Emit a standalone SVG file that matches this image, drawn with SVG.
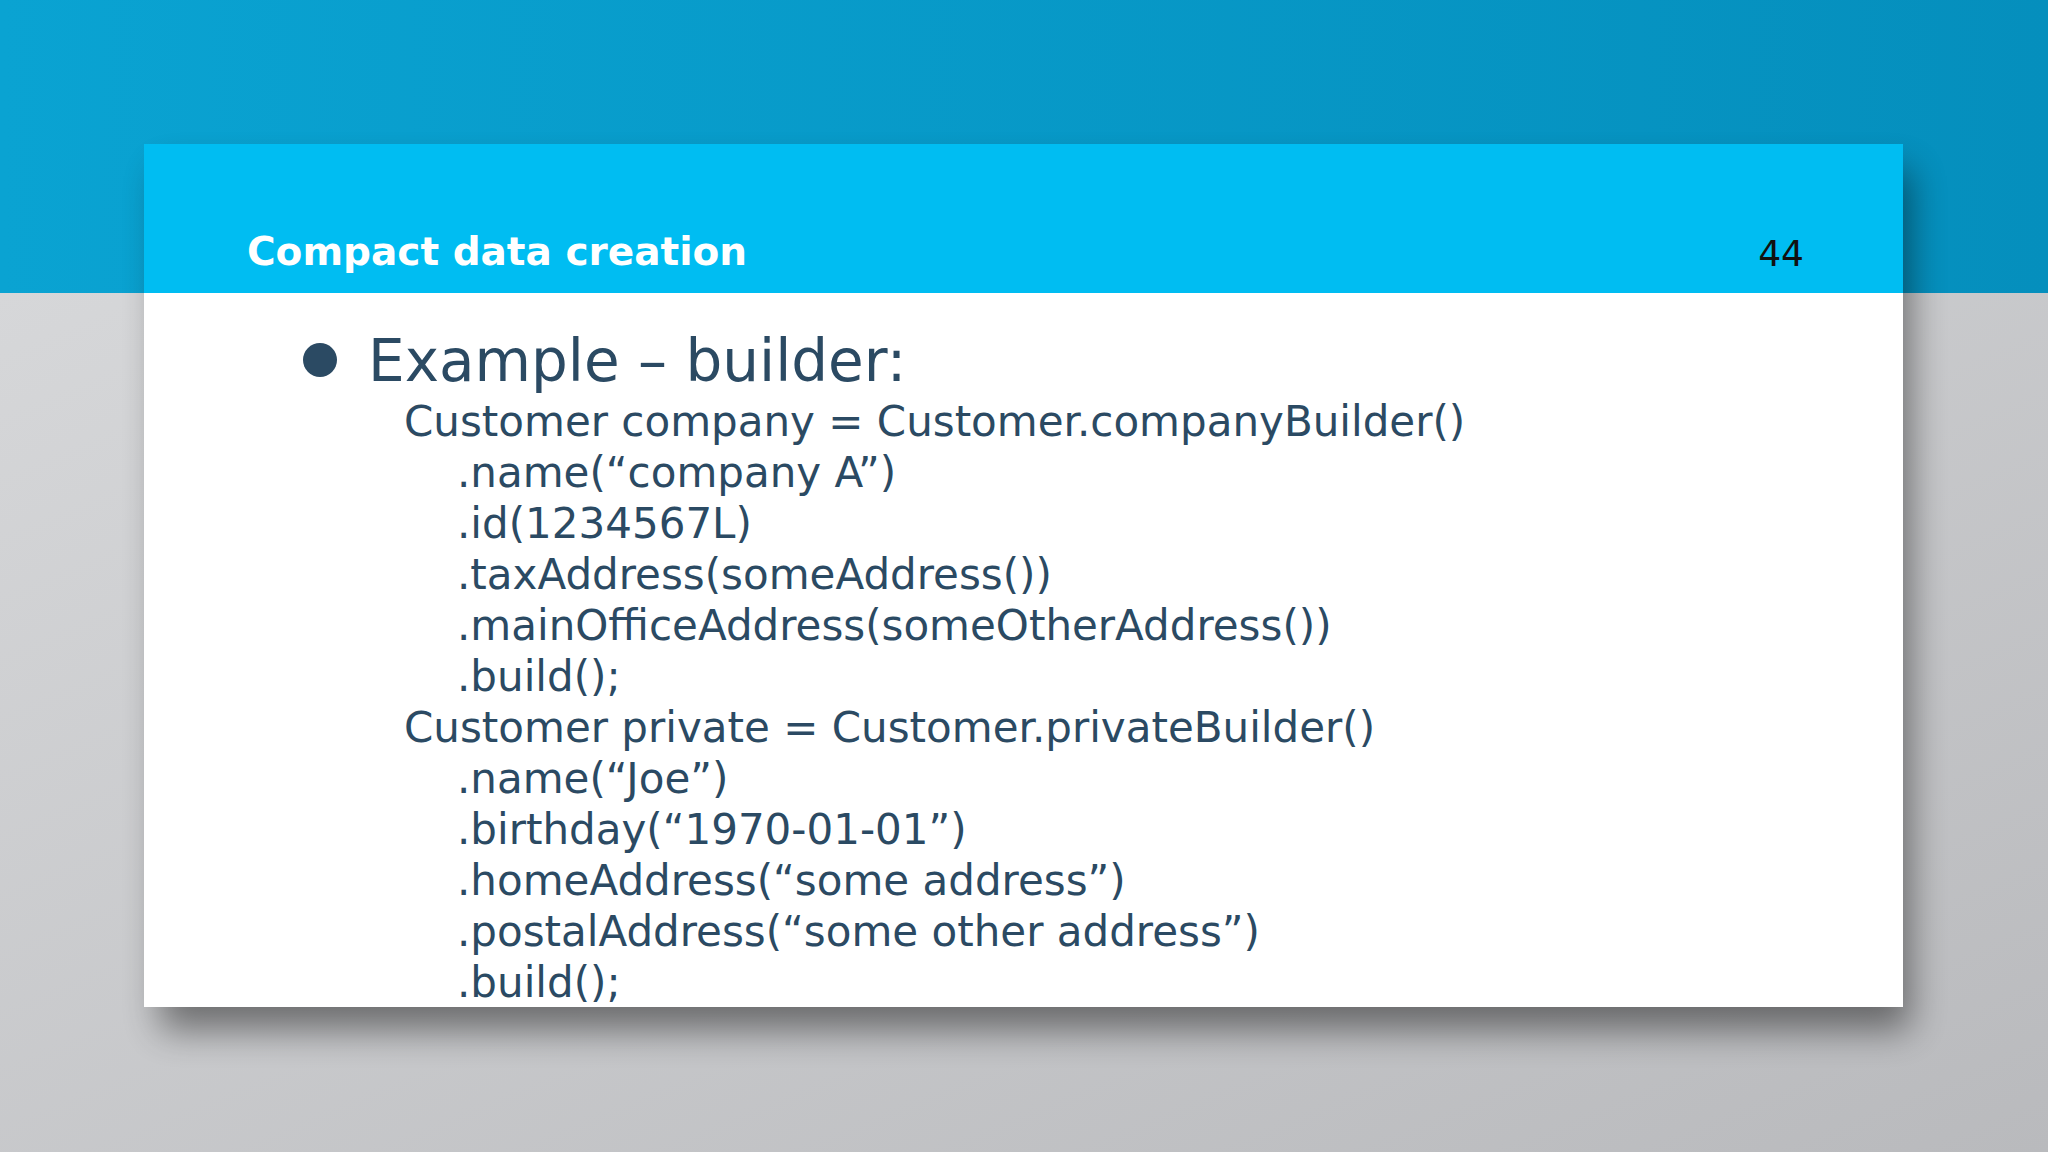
<svg xmlns="http://www.w3.org/2000/svg" width="2048" height="1152" viewBox="0 0 2048 1152">
<defs>
<linearGradient id="top" x1="0" y1="0" x2="1" y2="0"><stop offset="0" stop-color="#0aa3d2"/><stop offset="1" stop-color="#058fbd"/></linearGradient>
<linearGradient id="bot" x1="0" y1="0" x2="1" y2="1"><stop offset="0" stop-color="#d6d7d9"/><stop offset="1" stop-color="#b9babd"/></linearGradient>
<filter id="sh" x="-10%" y="-10%" width="120%" height="130%"><feGaussianBlur stdDeviation="18"/></filter>
<style>
.c{font-family:"DejaVu Sans",sans-serif;font-size:42px;fill:#2b4a63}
</style>
</defs>
<rect width="2048" height="293" fill="url(#top)"/>
<rect y="293" width="2048" height="859" fill="url(#bot)"/>
<rect x="160" y="170" width="1750" height="860" fill="#000" opacity="0.45" filter="url(#sh)"/>
<g id="slide">
<rect x="144" y="144" width="1759" height="863" fill="#ffffff"/>
<rect x="144" y="144" width="1759" height="149" fill="#00bdf2"/>
<text x="247" y="265" font-family="DejaVu Sans,sans-serif" font-weight="bold" font-size="39" fill="#ffffff">Compact data creation</text>
<text x="1804" y="266" text-anchor="end" font-family="DejaVu Sans,sans-serif" font-size="36" fill="#111">44</text>
<circle cx="320" cy="360" r="17" fill="#2b4a63"/>
<text x="368" y="381" font-family="DejaVu Sans,sans-serif" font-size="58" fill="#2b4a63">Example – builder:</text>
<text class="c" x="404" y="436">Customer company = Customer.companyBuilder()</text>
<text class="c" x="457" y="487">.name(“company A”)</text>
<text class="c" x="457" y="538">.id(1234567L)</text>
<text class="c" x="457" y="589">.taxAddress(someAddress())</text>
<text class="c" x="457" y="640">.mainOfficeAddress(someOtherAddress())</text>
<text class="c" x="457" y="691">.build();</text>
<text class="c" x="404" y="742">Customer private = Customer.privateBuilder()</text>
<text class="c" x="457" y="793">.name(“Joe”)</text>
<text class="c" x="457" y="844">.birthday(“1970-01-01”)</text>
<text class="c" x="457" y="895">.homeAddress(“some address”)</text>
<text class="c" x="457" y="946">.postalAddress(“some other address”)</text>
<text class="c" x="457" y="997">.build();</text>
</g>
</svg>
